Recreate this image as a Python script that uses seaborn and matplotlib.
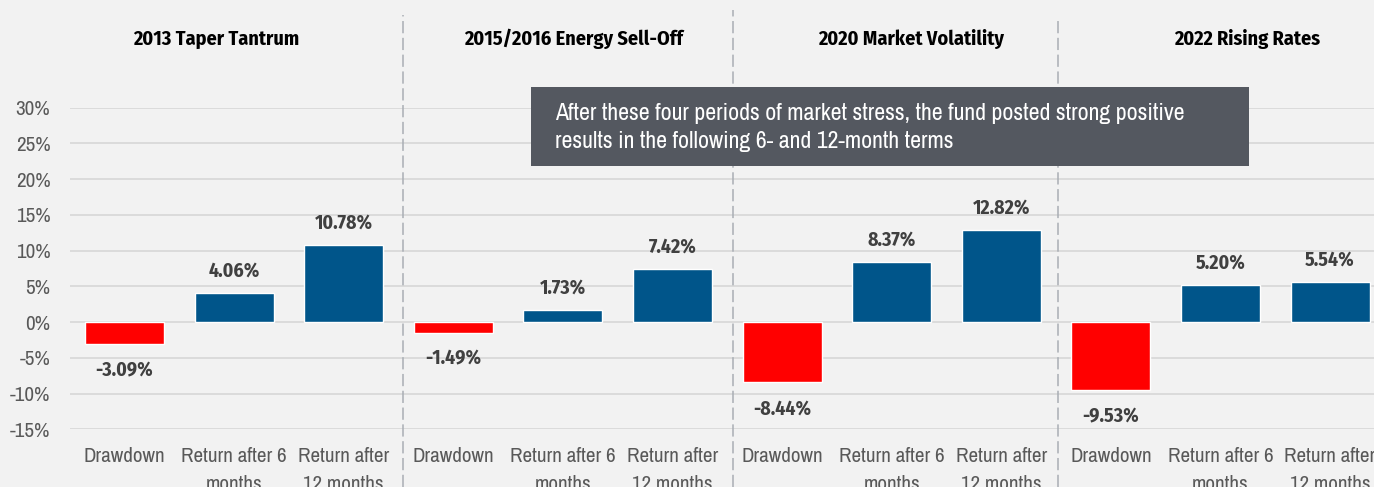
import matplotlib
matplotlib.use("Agg")
import matplotlib.pyplot as plt
import matplotlib.transforms as mtransforms
from matplotlib.patches import Rectangle
from matplotlib.lines import Line2D
from matplotlib import font_manager
import seaborn as sns
import pandas as pd

# ---- data ----
periods = ["2013 Taper Tantrum", "2015/2016 Energy Sell-Off",
           "2020 Market Volatility", "2022 Rising Rates"]
metrics = ["Drawdown", "Return after 6\nmonths", "Return after\n12 months"]
drawdown = [-3.09, -1.49, -8.44, -9.53]
return_6m = [4.06, 1.73, 8.37, 5.20]
return_12m = [10.78, 7.42, 12.82, 5.54]
y_ticks = [-15, -10, -5, 0, 5, 10, 15, 20, 25, 30]
note = ("After these four periods of market stress, the fund posted strong positive",
        "results in the following 6- and 12-month terms")

rows = []
for p, d, r6, r12 in zip(periods, drawdown, return_6m, return_12m):
    for m, v in zip(metrics, [d, r6, r12]):
        rows.append({"id": f"{p}|{m}", "period": p, "metric": m, "value": v,
                     "kind": "neg" if v < 0 else "pos"})
df = pd.DataFrame(rows)

sns.set_theme(style="white")
avail = {f.name for f in font_manager.fontManager.ttflist}
REG = [f for f in ["Archivo Narrow", "Liberation Sans"] if f in avail] + ["DejaVu Sans"]
BOLD = [f for f in ["Fira Sans Condensed", "Liberation Sans"] if f in avail] + ["DejaVu Sans"]
plt.rcParams["font.family"] = REG

BG = "#f2f2f2"
fig = plt.figure(figsize=(13.74, 4.87), dpi=100, facecolor=BG)
renderer = fig.canvas.get_renderer()


def fit_size(s, family, weight, target_px, base=14.0):
    t = fig.text(0, 0, s, fontsize=base, family=family, fontweight=weight)
    w = t.get_window_extent(renderer=renderer).width
    t.remove()
    return base * target_px / w


fs_title = fit_size("2013 Taper Tantrum", BOLD, "bold", 166)
fs_value = fit_size("10.78%", BOLD, "bold", 58)
fs_ytick = fit_size("-15%", REG, "normal", 40.5)
fs_xtick = fit_size("Return after 6", REG, "normal", 105)
fs_note = fit_size(note[0], REG, "normal", 628)

ax = fig.add_axes([69.7 / 1374, 0.1185, 1315.2 / 1374, 0.6604])
ax.set_facecolor(BG)

sns.barplot(data=df, x="id", y="value", hue="kind", dodge=False,
            palette={"neg": "#ff0000", "pos": "#00558a"}, width=0.72,
            legend=False, ax=ax, zorder=3, saturation=1)

ax.set_xlim(-0.5, 11.5)
ax.set_ylim(-15, 30)
ax.set_yticks(y_ticks)
ax.set_yticklabels([f"{t}%" for t in y_ticks])
ax.set_xticks(range(len(df)))
ax.set_xticklabels(df["metric"].tolist())
ax.set_xlabel("")
ax.set_ylabel("")
for s in ax.spines.values():
    s.set_visible(False)
ax.tick_params(axis="both", length=0, colors="#595959")
ax.tick_params(axis="x", pad=13)
ax.tick_params(axis="y", pad=14)
for lab in ax.get_xticklabels():
    lab.set_fontfamily(REG)
    lab.set_fontsize(fs_xtick)
    lab.set_linespacing(1.6)
for lab in ax.get_yticklabels():
    lab.set_fontfamily(REG)
    lab.set_fontsize(fs_ytick)
ax.yaxis.grid(True, color="#d9d9d9", linewidth=1.3, zorder=0)
ax.set_axisbelow(True)

# value labels
for i, v in enumerate(df["value"]):
    off = 16 if v >= 0 else -19
    ax.annotate(f"{v:.2f}%", (i, v), xytext=(0, off), textcoords="offset points",
                ha="center", va="center", fontsize=fs_value, fontweight="bold",
                family=BOLD, color="#404040", zorder=5)

# separators and period titles
trans = mtransforms.blended_transform_factory(ax.transData, fig.transFigure)
for xs, ytop in zip([2.54, 5.55, 8.52], [15, 10, 20]):
    fig.add_artist(Line2D([xs, xs], [0, 1 - ytop / 487], transform=trans,
                          color="#a9aeb4", linewidth=1.1, linestyle=(0, (8, 3)),
                          zorder=1))
for xs, p in zip([0.835, 4.10, 7.18, 10.24], periods):
    fig.text(xs, 1 - 39 / 487, p, transform=trans, ha="center", va="center",
             fontsize=fs_title, fontweight="bold", family=BOLD, color="#000000")

# annotation box
fig.add_artist(Rectangle((531 / 1374, 1 - 166 / 487), (1249 - 531) / 1374, 79 / 487,
                         transform=fig.transFigure, facecolor="#545860",
                         edgecolor="none", zorder=10))
for line, ypx in zip(note, [113, 142]):
    fig.text(555 / 1374, 1 - ypx / 487, line, ha="left", va="center",
             fontsize=fs_note, family=REG, color="white", zorder=11)

fig.savefig("out.png", dpi=100, facecolor=BG)
